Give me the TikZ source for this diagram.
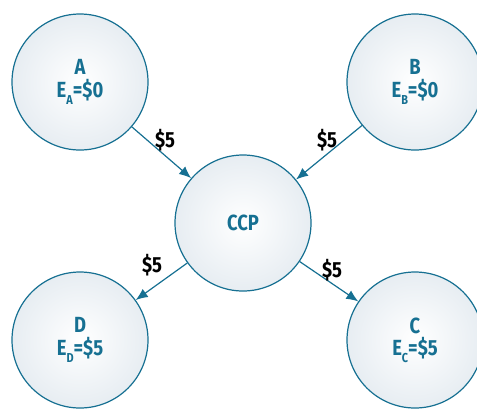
\documentclass[tikz,border=0pt]{standalone}
\usepackage{fontspec}
\setmainfont{Fira Sans}[FakeStretch=0.84]
\usetikzlibrary{arrows.meta}
\definecolor{myteal}{RGB}{22,112,146}
\definecolor{myfill}{RGB}{231,237,242}
\newcommand{\lowsub}[1]{\raisebox{-0.55ex}{\fontsize{13}{13}\selectfont #1}}

\begin{document}
\begin{tikzpicture}[x=1bp, y=-1bp, >={Latex[length=12bp,width=10bp]},
    font=\bfseries\fontsize{22}{23}\selectfont,
    party/.style={circle, draw=myteal, line width=1.2bp, inner color=white,
        outer color=myfill, minimum size=136bp, inner sep=0pt,
        text=myteal, align=center},
    flow/.style={->, draw=myteal, line width=1.2bp},
    amount/.style={font=\bfseries\fontsize{22}{23}\selectfont, text=black}]

    \useasboundingbox (0,0) rectangle (477,412);

    % ===== PARTIES =====
    \node[party] (A)   at (80,82)   {A\\E\lowsub{A}=\$0};
    \node[party] (B)   at (415,82)  {B\\E\lowsub{B}=\$0};
    \node[party] (CCP) at (243,223) {CCP};
    \node[party] (D)   at (80,340)  {D\\E\lowsub{D}=\$5};
    \node[party] (C)   at (415,340) {C\\E\lowsub{C}=\$5};

    % ===== PAYMENTS =====
    \draw[flow] (A) -- (CCP);
    \draw[flow] (B) -- (CCP);
    \draw[flow] (CCP) -- (D);
    \draw[flow] (CCP) -- (C);

    \node[amount] (pA) at (165,140) {\$5};
    \node[amount] (pB) at (327,140) {\$5};
    \node[amount] (pD) at (152,265) {\$5};
    \node[amount] (pC) at (332,270) {\$5};

\end{tikzpicture}
\end{document}
